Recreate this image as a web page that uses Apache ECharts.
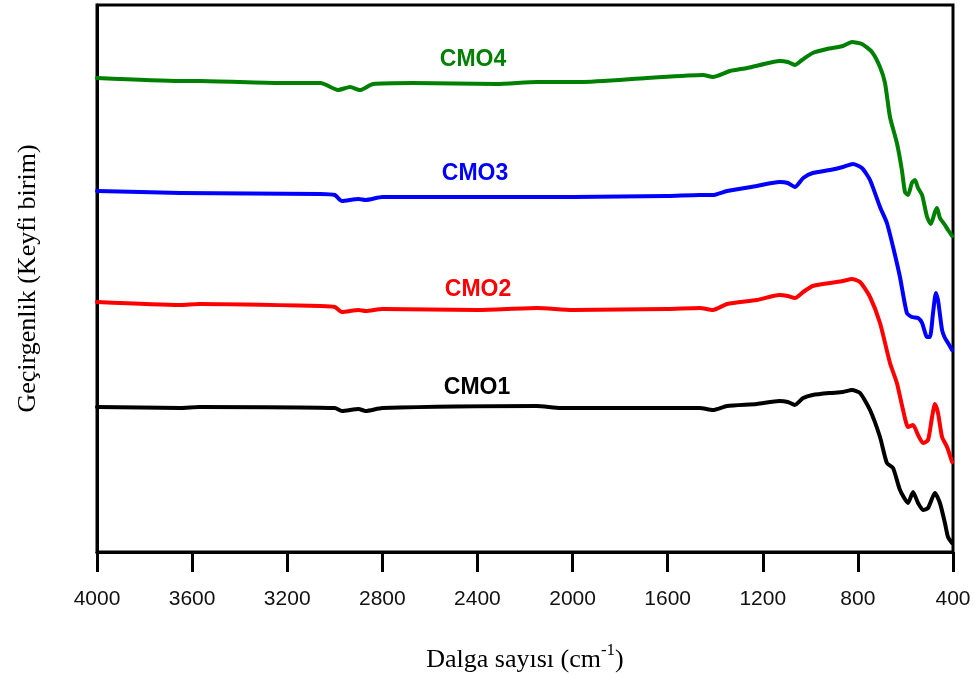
<!DOCTYPE html>
<html>
<head>
<meta charset="utf-8">
<script src="https://cdn.jsdelivr.net/npm/echarts@6/dist/echarts.min.js"></script>
<style>
  html, body { margin: 0; padding: 0; background: #fff; }
  #chart { width: 978px; height: 678px; }
</style>
</head>
<body>
<div id="chart"></div>
<script>
// x ticks (wavenumber, cm-1)
var xTicks = [4000, 3600, 3200, 2800, 2400, 2000, 1600, 1200, 800, 400];

// spectra: [wavenumber, transmittance (arbitrary units, offset)]
var cmo1 = [
  [4000,145],[3650,144],[3570,145],[3000,144],[2970,141],[2900,143],[2870,141],[2800,144],
  [2150,146],[2050,144],[1465,144],[1410,142],[1350,146],[1225,148],[1130,151],[1095,150],
  [1065,147],[1030,154],[990,157],[917,159],[863,160],[825,162],[791,159],[749,142],
  [707,115],[678,89],[652,84],[623,62],[589,49],[568,60],[547,49],[526,42],[505,44],
  [476,59],[455,49],[434,29],[421,15],[404,9]
];
var cmo2 = [
  [4000,250],[3650,247],[3570,248],[3060,246],[3000,245],[2970,240],[2900,242],[2870,241],
  [2800,243],[2400,242],[2150,244],[2000,242],[1600,243],[1465,244],[1410,242],[1350,248],
  [1225,252],[1130,257],[1095,256],[1065,254],[1030,260],[990,266],[917,269],[863,271],
  [825,273],[791,270],[749,255],[707,229],[665,189],[636,169],[610,142],[589,125],
  [568,127],[547,117],[526,109],[505,112],[488,135],[476,148],[463,139],[446,115],
  [425,105],[404,90]
];
var cmo3 = [
  [4000,361],[3650,359],[3060,358],[3000,357],[2970,351],[2900,353],[2870,352],[2800,355],
  [2400,355],[2000,355],[1600,356],[1465,357],[1410,357],[1350,361],[1225,366],[1130,370],
  [1095,369],[1065,365],[1030,374],[990,379],[917,382],[863,385],[821,388],[783,384],
  [749,372],[707,345],[678,329],[652,305],[623,275],[594,239],[573,235],[547,234],
  [530,229],[509,215],[497,215],[484,239],[472,259],[463,252],[446,222],[434,214],
  [421,209],[404,202]
];
var cmo4 = [
  [4000,474],[3650,471],[3570,471],[3230,469],[3060,469],[2986,462],[2936,465],[2894,462],
  [2839,468],[2671,469],[2318,468],[2150,470],[1969,470],[1687,474],[1451,477],[1410,475],
  [1338,481],[1266,484],[1212,487],[1130,491],[1095,490],[1065,487],[1035,492],[990,499],
  [930,503],[863,506],[825,510],[783,508],[741,500],[707,485],[686,469],[665,435],
  [636,409],[615,382],[602,360],[589,357],[573,369],[560,372],[547,364],[530,357],
  [509,335],[493,328],[476,340],[467,344],[455,334],[434,327],[421,322],[404,316]
];

var seriesNames = ["CMO1", "CMO2", "CMO3", "CMO4"];
var seriesColors = ["#000000", "#ff0000", "#0000ff", "#008000"];
var seriesData = [cmo1, cmo2, cmo3, cmo4];

var chart = echarts.init(document.getElementById("chart"));

var series = seriesData.map(function (d, i) {
  return {
    name: seriesNames[i],
    type: "line",
    data: d,
    showSymbol: false,
    smooth: 0.2,
    lineStyle: { color: seriesColors[i], width: 4, cap: "round", join: "round" },
    z: 3
  };
});

// label centres (px)
var labelPos = [[477, 388], [478, 290], [475, 174], [473, 60]];

var option = {
  animation: false,
  grid: {
    left: 97, right: 25, top: 5, bottom: 126,
    show: true, borderColor: "#000", borderWidth: 3
  },
  xAxis: {
    type: "value",
    min: 400, max: 4000, interval: 400,
    inverse: true,
    name: "{a|Dalga sayısı (cm}{s|-1}{a|)}",
    nameLocation: "middle",
    nameGap: 90,
    nameTextStyle: {
      rich: {
        a: { fontFamily: "Liberation Serif", fontSize: 26, color: "#000", verticalAlign: "bottom", lineHeight: 30 },
        s: { fontFamily: "Liberation Serif", fontSize: 17, color: "#000", verticalAlign: "top", padding: [0, 0, 14, 0] }
      }
    },
    axisLine: { show: true, onZero: false, lineStyle: { color: "#000", width: 3 } },
    axisTick: { show: true, inside: false, length: 20, lineStyle: { color: "#000", width: 3 } },
    axisLabel: {
      margin: 37,
      fontFamily: "Liberation Sans", fontSize: 21, color: "#111",
      formatter: function (v) { return xTicks.indexOf(v) >= 0 ? String(v) : ""; }
    },
    splitLine: { show: false }
  },
  yAxis: {
    type: "value",
    min: 0, max: 547,
    name: "Geçirgenlik (Keyfi birim)",
    nameLocation: "middle",
    nameGap: 56,
    nameTextStyle: { fontFamily: "Liberation Serif", fontSize: 26, color: "#000" },
    axisLine: { show: true, lineStyle: { color: "#000", width: 3 } },
    axisTick: { show: false },
    axisLabel: { show: false },
    splitLine: { show: false }
  },
  graphic: seriesNames.map(function (n, i) {
    return {
      type: "text",
      x: labelPos[i][0], y: labelPos[i][1],
      style: {
        text: n,
        fill: seriesColors[i],
        font: "bold 23px 'Liberation Sans'",
        textAlign: "center",
        textVerticalAlign: "middle"
      },
      z: 10
    };
  }),
  series: series
};

chart.setOption(option);
</script>
</body>
</html>
